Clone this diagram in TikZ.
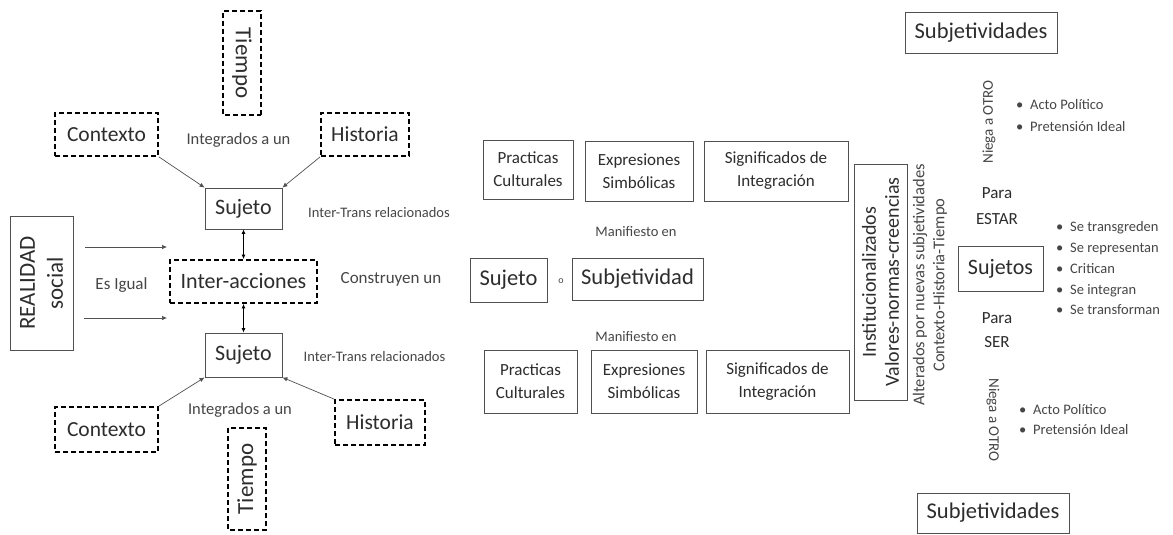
\documentclass[tikz,border=0pt]{standalone}
\usepackage{fontspec}
\setmainfont{Carlito}
\usetikzlibrary{arrows.meta}
\definecolor{ink}{RGB}{45,45,45}
\definecolor{lblc}{RGB}{70,70,70}
\definecolor{edgec}{RGB}{80,80,80}
\newcommand{\fsz}[2]{\fontsize{#1}{#2}\selectfont}
\newcommand{\bul}{\makebox[14pt][l]{\textbullet}}
\tikzset{
 box/.style={draw=edgec, line width=0.8pt, inner sep=0pt, align=center, text=ink},
 dbox/.style={draw=black, line width=1.8pt, dash pattern=on 5pt off 3pt, inner sep=0pt, align=center, text=ink},
 lab/.style={inner sep=0pt, text=lblc, align=center},
 arr/.style={draw=edgec, line width=0.7pt, -{Latex[length=5pt,width=4.5pt]}},
 darr/.style={draw=black, line width=0.8pt, {Latex[length=4.5pt,width=4pt]}-{Latex[length=4.5pt,width=4pt]}},
}
\begin{document}
\begin{tikzpicture}[x=1pt,y=-1pt]
\useasboundingbox[fill=white] (0,0) rectangle (1173,535);
% ---------- left part ----------
\node[dbox, rotate=-90, minimum width=104pt, minimum height=38pt, font=\fsz{23}{27}] (tiem1) at (242,63) {Tiempo};
\node[dbox, minimum width=103pt, minimum height=43pt, font=\fsz{21.5}{25}] (ctx1) at (106.5,134.5) {Contexto};
\node[dbox, minimum width=88pt, minimum height=43pt, font=\fsz{21.5}{25}] (his1) at (365,134.5) {Historia};
\node[lab, font=\fsz{16.5}{20}] (int1) at (238.5,140) {Integrados a un};
\node[box, minimum width=77pt, minimum height=41pt, font=\fsz{22}{26}] (suj1) at (243.5,208.5) {Sujeto};
\node[lab, font=\fsz{14.5}{18}] (itr1) at (379,213) {Inter-Trans relacionados};
\node[dbox, minimum width=147pt, minimum height=43pt, font=\fsz{22}{26}] (inter) at (243.5,281.5) {Inter-acciones};
\node[lab, font=\fsz{17}{20}] (cons) at (391,279) {Construyen un};
\node[box, minimum width=77pt, minimum height=44pt, font=\fsz{22}{26}] (suj2) at (243.5,355) {Sujeto};
\node[lab, font=\fsz{14.5}{18}] (itr2) at (374.5,357) {Inter-Trans relacionados};
\node[dbox, minimum width=103pt, minimum height=45pt, font=\fsz{21.5}{25}] (ctx2) at (106.5,429.5) {Contexto};
\node[dbox, minimum width=90pt, minimum height=45pt, font=\fsz{21.5}{25}] (his2) at (380,422.5) {Historia};
\node[lab, font=\fsz{16.5}{20}] (int2) at (240,410) {Integrados a un};
\node[dbox, rotate=90, minimum width=102pt, minimum height=38pt, font=\fsz{23}{27}] (tiem2) at (247,479) {Tiempo};
\node[box, rotate=90, minimum width=134pt, minimum height=63pt, font=\fsz{23}{28}] (real) at (41.5,283) {REALIDAD\\social};
\node[lab, font=\fsz{17}{20}] (esig) at (121.5,285) {Es Igual};
\coordinate (a1s) at (85,247);
\coordinate (a1e) at (167,247);
\coordinate (a2s) at (84,318);
\coordinate (a2e) at (167,318);
\draw[arr] (a1s) -- (a1e);
\draw[arr] (a2s) -- (a2e);
\draw[arr] (ctx1.south east) -- (suj1.north west);
\draw[arr] (his1.south west) -- (suj1.north east);
\draw[arr] (ctx2.north east) -- (suj2.south west);
\draw[arr] (his2.north west) -- (suj2.south east);
\draw[darr] (suj1.south) -- (inter.north);
\draw[darr] (inter.south) -- (suj2.north);
% ---------- middle part ----------
\node[box, minimum width=90pt, minimum height=59pt, font=\fsz{17}{23}] (pc1) at (528,169.5) {Practicas\\Culturales};
\node[box, minimum width=108pt, minimum height=60pt, font=\fsz{17}{23}] (es1) at (639,171) {Expresiones\\Simbólicas};
\node[box, minimum width=144pt, minimum height=60pt, font=\fsz{17}{23}] (sg1) at (776,171) {Significados de\\Integración};
\node[lab, font=\fsz{14.5}{18}] (man1) at (636,232) {Manifiesto en};
\node[box, minimum width=77pt, minimum height=44pt, font=\fsz{22.5}{26}] (sujm) at (508.5,280) {Sujeto};
\node[lab, font=\fsz{10}{12}] (oo) at (561,281) {o};
\node[box, minimum width=131pt, minimum height=42pt, font=\fsz{22.5}{26}] (subj) at (637.5,279) {Subjetividad};
\node[lab, font=\fsz{14.5}{18}] (man2) at (636,337) {Manifiesto en};
\node[box, minimum width=93pt, minimum height=63pt, font=\fsz{17}{23}] (pc2) at (530.5,381.5) {Practicas\\Culturales};
\node[box, minimum width=106pt, minimum height=63pt, font=\fsz{17}{23}] (es2) at (644,381.5) {Expresiones\\Simbólicas};
\node[box, minimum width=143pt, minimum height=63pt, font=\fsz{17}{23}] (sg2) at (777.5,381.5) {Significados de\\Integración};
\node[box, rotate=90, minimum width=236pt, minimum height=53pt, font=\fsz{20}{23}] (inst) at (880.5,282) {Institucionalizados\\Valores-normas-creencias};
\node[lab, rotate=90, font=\fsz{16.5}{20}] (alt) at (930,285) {Alterados por nuevas subjetividades\\Contexto-Historia-Tiempo};
% ---------- right part ----------
\node[box, minimum width=152pt, minimum height=41pt, font=\fsz{22.5}{26}] (subt) at (981,32.5) {Subjetividades};
\node[lab, rotate=90, font=\fsz{15}{18}] (neg1) at (989,122) {Niega a OTRO};
\node[lab, anchor=west, align=left, font=\fsz{14.5}{22}] (bl1) at (1016,116) {\bul Acto Político\\\bul Pretensión Ideal};
\node[lab, text=ink, font=\fsz{17}{26}] (para1) at (997,206) {Para\\ESTAR};
\node[box, minimum width=85pt, minimum height=45pt, font=\fsz{22}{26}] (sujs) at (1000.5,268.5) {Sujetos};
\node[lab, anchor=west, align=left, font=\fsz{14.5}{20.75}] (bl2) at (1056,268.5) {\bul Se transgreden\\\bul Se representan\\\bul Critican\\\bul Se integran\\\bul Se transforman};
\node[lab, text=ink, font=\fsz{17}{24}] (para2) at (997,330) {Para\\SER};
\node[lab, rotate=-90, font=\fsz{15}{18}] (neg2) at (993,420) {Niega a OTRO};
\node[lab, anchor=west, align=left, font=\fsz{14.5}{20}] (bl3) at (1019,420) {\bul Acto Político\\\bul Pretensión Ideal};
\node[box, minimum width=152pt, minimum height=40pt, font=\fsz{22.5}{26}] (subb) at (993,513) {Subjetividades};
\end{tikzpicture}
\end{document}
